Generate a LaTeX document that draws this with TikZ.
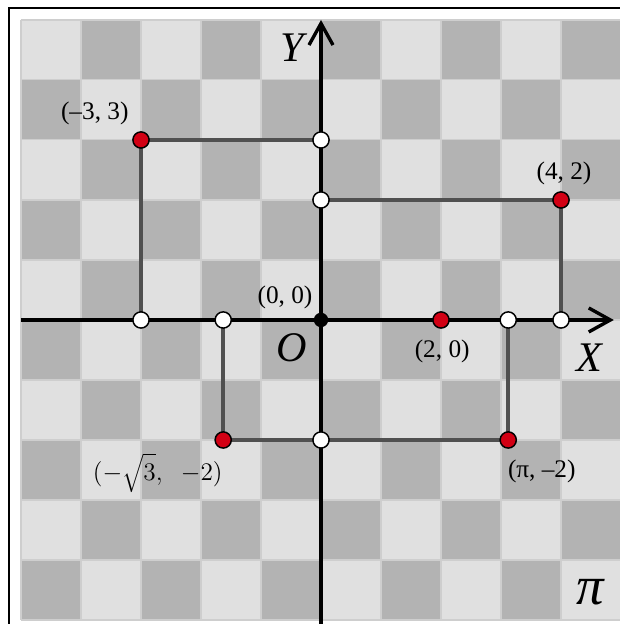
\documentclass[tikz,border=0pt]{standalone}
\usepackage{fontspec}
\setmainfont{Liberation Serif}
\usetikzlibrary{arrows.meta}

\definecolor{sqlight}{RGB}{224,224,224}
\definecolor{sqdark}{RGB}{179,179,179}
\definecolor{sqline}{RGB}{206,206,206}
\definecolor{segcol}{RGB}{80,80,80}
\definecolor{ptred}{RGB}{210,0,20}

\begin{document}
\begin{tikzpicture}[>={Straight Barb[length=3.6mm,width=4mm]},
  seg/.style={segcol, line width=2pt},
  axis/.style={black, line width=1.6pt, ->},
  dot/.style={circle, draw=black, line width=0.7pt, inner sep=0pt, minimum size=2.7mm},
  reddot/.style={dot, fill=ptred},
  whitedot/.style={dot, fill=white},
  origindot/.style={circle, fill=black, inner sep=0pt, minimum size=2.4mm},
  lbl/.style={font=\fontsize{12}{14}\selectfont},
  big/.style={font=\fontsize{20}{24}\selectfont\itshape}]

\useasboundingbox (-5.35,-5.067) rectangle (4.983,5.333);
\fill[white] (-5.35,-5.067) rectangle (4.983,5.333);
\clip (-5.35,-5.067) rectangle (4.983,5.333);

% checkerboard
\fill[sqlight] (-5,-5) rectangle (5,5);
\foreach \i in {-5,...,4}
  \foreach \j in {-5,...,4} {
    \pgfmathtruncatemacro{\odd}{mod(\i+\j+10,2)}
    \ifnum\odd=0 \fill[sqdark] (\i,\j) rectangle ++(1,1); \fi
  }
\draw[sqline, line width=0.5pt] (-5,-5) grid (5,5);
\draw[line width=0.8pt] (-5.2,-5.2) rectangle (5.2,5.2);

% points
\coordinate (O) at (0,0);
\coordinate (A) at (-3,3);
\coordinate (Ay) at (0,3);
\coordinate (Ax) at (-3,0);
\coordinate (B) at (4,2);
\coordinate (By) at (0,2);
\coordinate (Bx) at (4,0);
\coordinate (C) at (2,0);
\coordinate (D) at (-1.63,-2);
\coordinate (Dx) at (-1.63,0);
\coordinate (Dy) at (0,-2);
\coordinate (E) at (3.12,-2);
\coordinate (Ex) at (3.12,0);
\coordinate (xl) at (-5,0);
\coordinate (xr) at (4.88,0);
\coordinate (yb) at (0,-5.1);
\coordinate (yt) at (0,5);

% segments and axes
\draw[seg] (Ax) -- (A) -- (Ay);
\draw[seg] (By) -- (B) -- (Bx);
\draw[seg] (Dx) -- (D) -- (E) -- (Ex);
\draw[axis] (xl) -- (xr);
\draw[axis] (yb) -- (yt);

% dots
\foreach \p in {A,B,C,D,E}
  \node[reddot] (\p dot) at (\p) {};
\foreach \p in {Ay,Ax,By,Bx,Dx,Dy,Ex}
  \node[whitedot] (\p dot) at (\p) {};
\node[origindot] (O dot) at (O) {};

% labels
\node[lbl] (A lbl) at (-3.77,3.45) {(--3, 3)};
\node[lbl] (B lbl) at (4.05,2.45) {(4, 2)};
\node[lbl] (O lbl) at (-0.6,0.37) {(0, 0)};
\node[lbl] (C lbl) at (2.02,-0.53) {(2, 0)};
\node[lbl] (D lbl) at (-2.72,-2.55) {$(-\sqrt{\vphantom{\big(}3},\;\; -2)$};
\node[lbl] (E lbl) at (3.68,-2.53) {(π, --2)};
\node[big] (O name) at (-0.48,-0.47) {O};
\node[big] (X name) at (4.48,-0.63) {X};
\node[big] (Y name) at (-0.48,4.53) {Y};
\node[font=\fontsize{26}{30}\selectfont\itshape] (pi name) at (4.48,-4.53) {π};

\end{tikzpicture}
\end{document}
